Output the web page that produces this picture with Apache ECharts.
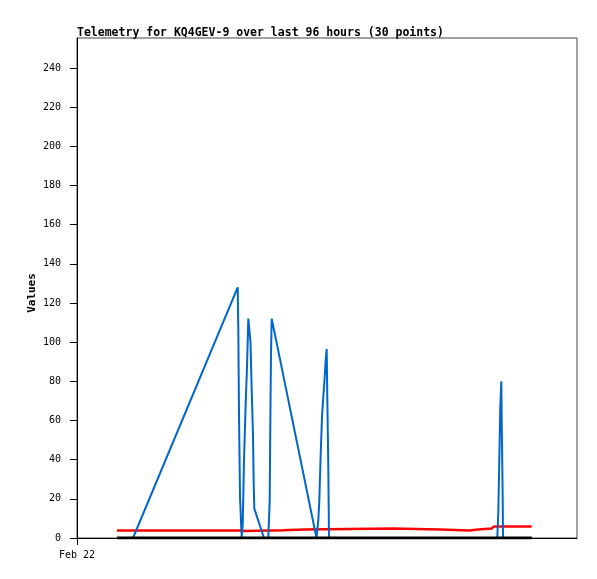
<!DOCTYPE html>
<html>
<head>
<meta charset="utf-8">
<script src="https://cdn.jsdelivr.net/npm/echarts@6/dist/echarts.min.js"></script>
<style>html,body{margin:0;padding:0;background:#fff}#c{width:597px;height:579px}</style>
</head>
<body>
<div id="c"></div>
<script>
// x in hours since Feb 22 00:00
var titleText = 'Telemetry for KQ4GEV-9 over last 96 hours (30 points)';
var yAxisName = 'Values';
var xTickLabels = ['Feb 22'];
var xTickValues = [0];
var yTickValues = [0, 20, 40, 60, 80, 100, 120, 140, 160, 180, 200, 220, 240];

var blueT = [11.2, 32.14, 32.26, 32.4, 32.6, 32.94, 33.14, 33.4, 33.74, 34.0, 34.26, 34.6, 34.7, 34.94, 35.2, 35.34, 35.46, 37.4, 38.26, 38.54, 38.66, 38.8, 38.94, 47.9, 48.26, 48.46, 48.74, 49.0, 49.26, 49.54, 49.74, 49.94, 50.06, 50.26, 50.4, 84.06, 84.26, 84.46, 84.66, 84.86, 84.94, 85.14, 85.2, 90.94];
var blueV = [0, 128, 107, 64, 21, 0, 7, 40, 69, 87, 112, 112, 100, 76, 52, 28, 15, 0, 0, 19, 57, 94, 112, 0, 9, 19, 43, 62, 72, 82, 91, 96.5, 72, 36, 0, 0, 13, 40, 67, 80, 60, 20, 0, 0];

var redT = [8.0, 32.6, 32.9, 33.8, 34.0, 41.1, 41.3, 45.5, 45.7, 63.1, 63.3, 72.7, 72.9, 78.5, 78.7, 80.2, 80.4, 82.9, 83.1, 83.4, 90.94];
var redV = [3.8, 3.8, 3.5, 3.6, 4.0, 4.0, 4.3, 4.3, 4.8, 4.8, 4.3, 4.3, 3.8, 3.8, 4.3, 4.3, 4.8, 4.8, 5.5, 5.9, 5.9];

var blackT = [8.0, 90.94];
var blackV = [0, 0];

function zip(a, b) { return a.map(function (v, i) { return [v, b[i]]; }); }

var MONO = 'DejaVu Sans Mono';
var chart = echarts.init(document.getElementById('c'), null, {renderer: 'canvas'});
chart.setOption({
  animation: false,
  backgroundColor: '#fff',
  title: {
    text: titleText, left: 72, top: 22,
    textStyle: {fontFamily: MONO, fontWeight: 'bold', fontSize: 11.5, color: '#000'}
  },
  graphic: [{
    type: 'text', x: 32, y: 293, rotation: Math.PI / 2,
    style: {text: yAxisName, fontFamily: MONO, fontWeight: 'bold', fontSize: 11, fill: '#000', align: 'center', verticalAlign: 'middle'}
  }],
  grid: {left: 77, right: 20, top: 38, bottom: 41, show: true, borderColor: '#444', borderWidth: 1},
  xAxis: {
    type: 'value', min: 0, max: 100,
    axisLine: {show: true, onZero: false, lineStyle: {color: '#000', width: 1}},
    axisTick: {show: true, length: 7, customValues: xTickValues, lineStyle: {color: '#000'}},
    axisLabel: {customValues: xTickValues, margin: 12, fontFamily: MONO, fontSize: 10, color: '#000',
      formatter: function (v) { var i = xTickValues.indexOf(v); return i >= 0 ? xTickLabels[i] : ''; }},
    splitLine: {show: false}
  },
  yAxis: {
    type: 'value', min: 0, max: 255.3,
    axisLine: {show: true, lineStyle: {color: '#000', width: 1}},
    axisTick: {show: true, length: 7, customValues: yTickValues, lineStyle: {color: '#000'}},
    axisLabel: {customValues: yTickValues, margin: 16, fontFamily: MONO, fontSize: 10, color: '#000'},
    splitLine: {show: false}
  },
  series: [
    {type: 'line', data: zip(redT, redV), showSymbol: false, lineStyle: {color: '#ff0000', width: 2.5}, itemStyle: {color: '#ff0000'}, z: 2},
    {type: 'line', data: zip(blueT, blueV), showSymbol: false, lineStyle: {color: '#0066cc', width: 2}, itemStyle: {color: '#0066cc'}, z: 3},
    {type: 'line', data: zip(blackT, blackV), showSymbol: false, lineStyle: {color: '#000000', width: 3}, itemStyle: {color: '#000'}, z: 4}
  ]
});
</script>
</body>
</html>
